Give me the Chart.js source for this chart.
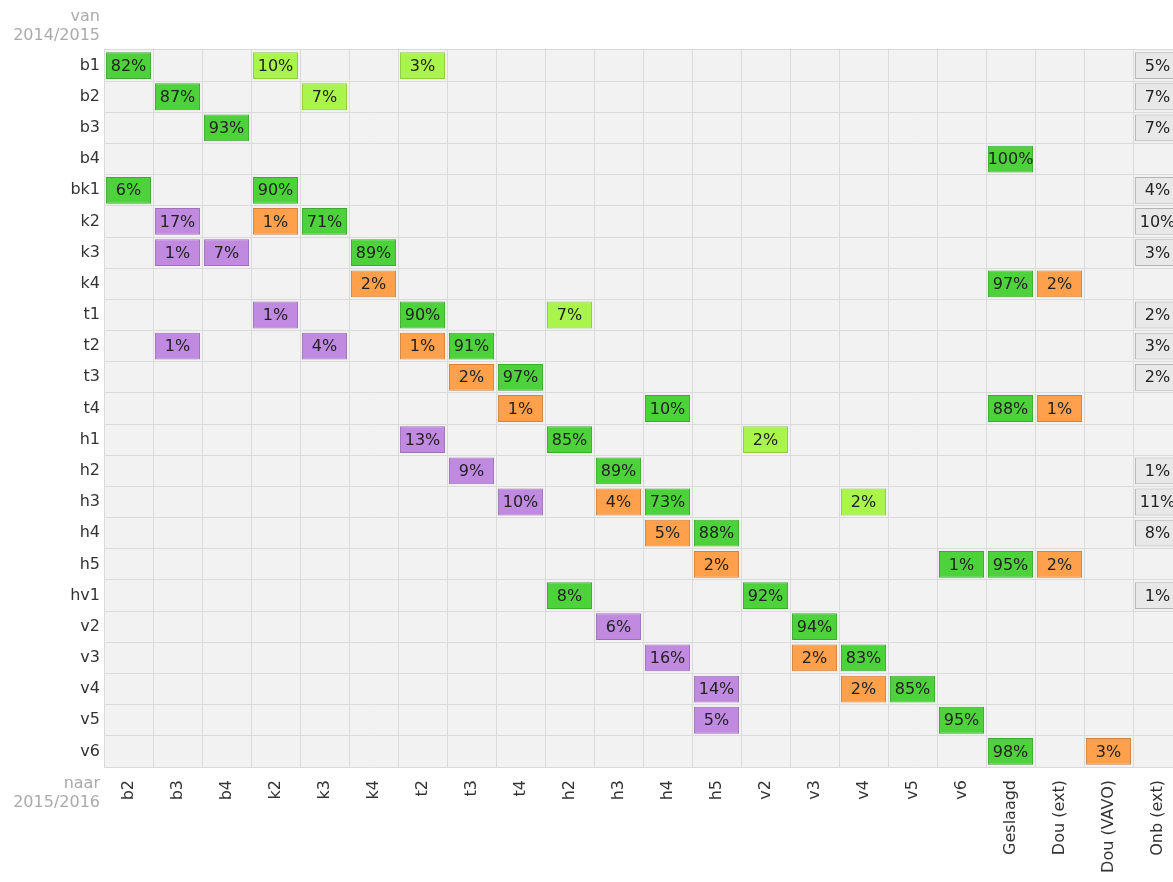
<!DOCTYPE html>
<html>
<head>
<meta charset="utf-8">
<title>Doorstroom 2014/2015 naar 2015/2016</title>
<script src="https://cdn.jsdelivr.net/npm/chart.js@4.4.1/dist/chart.umd.min.js"></script>
<style>
    html, body { margin: 0; padding: 0; background: #fff; overflow: hidden; }
    #wrap { position: relative; width: 1182px; height: 882px; }
</style>
</head>
<body>
<div id="wrap"><canvas id="flowChart"></canvas></div>
<script>
// Doorstroom matrix: van (2014/2015) naar (2015/2016)

const rowLabels = ['b1', 'b2', 'b3', 'b4', 'bk1', 'k2', 'k3', 'k4', 't1', 't2', 't3', 't4',
    'h1', 'h2', 'h3', 'h4', 'h5', 'hv1', 'v2', 'v3', 'v4', 'v5', 'v6'];
const colLabels = ['b2', 'b3', 'b4', 'k2', 'k3', 'k4', 't2', 't3', 't4', 'h2', 'h3', 'h4', 'h5',
    'v2', 'v3', 'v4', 'v5', 'v6', 'Geslaagd', 'Dou (ext)', 'Dou (VAVO)', 'Onb (ext)'];

// [van, naar, percentage]
const regulier = [
    ['b1', 'b2', 82], ['b2', 'b3', 87], ['b3', 'b4', 93], ['b4', 'Geslaagd', 100],
    ['bk1', 'b2', 6], ['bk1', 'k2', 90], ['k2', 'k3', 71], ['k3', 'k4', 89],
    ['k4', 'Geslaagd', 97], ['t1', 't2', 90], ['t2', 't3', 91], ['t3', 't4', 97],
    ['t4', 'h4', 10], ['t4', 'Geslaagd', 88], ['h1', 'h2', 85], ['h2', 'h3', 89],
    ['h3', 'h4', 73], ['h4', 'h5', 88], ['h5', 'v6', 1], ['h5', 'Geslaagd', 95],
    ['hv1', 'h2', 8], ['hv1', 'v2', 92], ['v2', 'v3', 94], ['v3', 'v4', 83],
    ['v4', 'v5', 85], ['v5', 'v6', 95], ['v6', 'Geslaagd', 98]
];
const opstroom = [
    ['b1', 'k2', 10], ['b1', 't2', 3], ['b2', 'k3', 7], ['t1', 'h2', 7], ['h1', 'v2', 2], ['h3', 'v4', 2]
];
const afstroom = [
    ['k2', 'b3', 17], ['k3', 'b3', 1], ['k3', 'b4', 7], ['t1', 'k2', 1], ['t2', 'b3', 1], ['t2', 'k3', 4],
    ['h1', 't2', 13], ['h2', 't3', 9], ['h3', 't4', 10], ['v2', 'h3', 6], ['v3', 'h4', 16],
    ['v4', 'h5', 14], ['v5', 'h5', 5]
];
const doublure = [
    ['k2', 'k2', 1], ['k4', 'k4', 2], ['k4', 'Dou (ext)', 2], ['t2', 't2', 1], ['t3', 't3', 2],
    ['t4', 't4', 1], ['t4', 'Dou (ext)', 1], ['h3', 'h3', 4], ['h4', 'h4', 5], ['h5', 'h5', 2],
    ['h5', 'Dou (ext)', 2], ['v3', 'v3', 2], ['v4', 'v4', 2], ['v6', 'Dou (VAVO)', 3]
];
// [van, percentage] -> kolom 'Onb (ext)'
const onbekend = [
    ['b1', 5], ['b2', 7], ['b3', 7], ['bk1', 4], ['k2', 10], ['k3', 3], ['t1', 2], ['t2', 3],
    ['t3', 2], ['h2', 1], ['h3', 11], ['h4', 8], ['hv1', 1]
];

const FONT = '"DejaVu Sans", Verdana, sans-serif';
const BOX = 0.46; // half box width, in columns

function toBars(rows) {
    return rows.map(([van, naar, pct]) => {
        const c = colLabels.indexOf(naar);
        return { y: van, x: [c - BOX, c + BOX], pct: pct };
    });
}

function makeDataset(label, rows, fill, border) {
    return {
        label: label,
        data: toBars(rows),
        backgroundColor: fill,
        borderColor: border,
        borderWidth: 1,
        borderSkipped: false,
        grouped: false,
        categoryPercentage: 1,
        barPercentage: 0.86
    };
}

const datasets = [
    makeDataset('Regulier', regulier, '#4dd23c', '#3caa2e'),
    makeDataset('Opstroom', opstroom, '#aaf54c', '#8ccc3e'),
    makeDataset('Afstroom', afstroom, '#c08ae0', '#9d72b8'),
    makeDataset('Doublure', doublure, '#ffa04c', '#d2843e'),
    makeDataset('Onbekend', onbekend.map(([van, pct]) => [van, 'Onb (ext)', pct]), '#e8e8e8', '#b4b4b4')
];

// Plot background
const backgroundPlugin = {
    id: 'plotBackground',
    beforeDraw(chart) {
        const { ctx, chartArea } = chart;
        ctx.save();
        ctx.fillStyle = '#f2f2f2';
        ctx.fillRect(chartArea.left, chartArea.top, chartArea.right - chartArea.left, chartArea.bottom - chartArea.top);
        ctx.restore();
    }
};

// Percentage text in each box
const cellLabelPlugin = {
    id: 'cellLabels',
    afterDatasetsDraw(chart) {
        const ctx = chart.ctx;
        ctx.save();
        ctx.font = '16px ' + FONT;
        ctx.fillStyle = '#222';
        ctx.textAlign = 'center';
        ctx.textBaseline = 'middle';
        chart.data.datasets.forEach((ds, i) => {
            chart.getDatasetMeta(i).data.forEach((bar, j) => {
                const p = bar.getCenterPoint();
                ctx.fillText(ds.data[j].pct + '%', p.x, p.y + 1);
            });
        });
        ctx.restore();
    }
};

// "van" / "naar" captions beside the axes
const axisCaptionPlugin = {
    id: 'axisCaptions',
    afterDraw(chart) {
        const { ctx, chartArea } = chart;
        const x = chartArea.left - 4;
        ctx.save();
        ctx.font = '16px ' + FONT;
        ctx.fillStyle = '#aaaaaa';
        ctx.textAlign = 'right';
        ctx.textBaseline = 'middle';
        ctx.fillText('van', x, chartArea.top - 33);
        ctx.fillText('2014/2015', x, chartArea.top - 14);
        ctx.fillText('naar', x, chartArea.bottom + 17);
        ctx.fillText('2015/2016', x, chartArea.bottom + 36);
        ctx.restore();
    }
};

const ctx = document.getElementById('flowChart').getContext('2d');
new Chart(ctx, {
    type: 'bar',
    data: {
        labels: rowLabels,
        datasets: datasets
    },
    plugins: [backgroundPlugin, cellLabelPlugin, axisCaptionPlugin],
    options: {
        indexAxis: 'y',
        responsive: true,
        maintainAspectRatio: false,
        animation: false,
        events: [],
        layout: { padding: { top: 50, right: 0, bottom: 0, left: 0 } },
        plugins: {
            legend: { display: false },
            tooltip: { enabled: false }
        },
        scales: {
            x: {
                type: 'linear',
                position: 'bottom',
                min: -0.5,
                max: colLabels.length - 0.5,
                afterBuildTicks: scale => {
                    scale.ticks = colLabels.map((_, i) => ({ value: i }));
                },
                afterFit: scale => {
                    scale.height = 115;
                    scale.paddingLeft = 0;
                    scale.paddingRight = 0;
                },
                grid: { offset: true, color: '#dadada', drawTicks: false },
                border: { display: false },
                ticks: {
                    autoSkip: false,
                    minRotation: 90,
                    maxRotation: 90,
                    padding: 13,
                    color: '#333',
                    font: { family: FONT, size: 16 },
                    callback: value => colLabels[value]
                }
            },
            y: {
                type: 'category',
                offset: true,
                afterFit: scale => { scale.width = 104; },
                grid: { offset: true, color: '#dadada', drawTicks: false },
                border: { display: false },
                ticks: {
                    autoSkip: false,
                    padding: 4,
                    color: '#333',
                    font: { family: FONT, size: 16 }
                }
            }
        }
    }
});
</script>
</body>
</html>
